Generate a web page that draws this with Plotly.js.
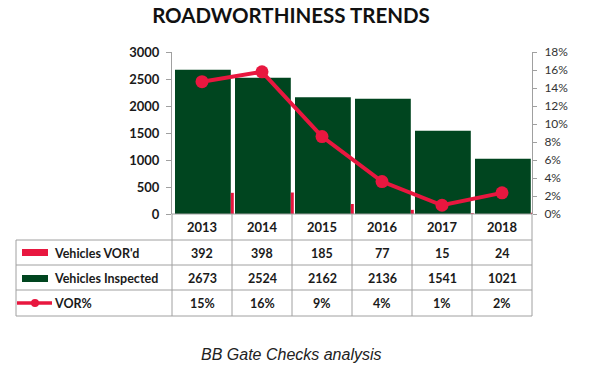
<!DOCTYPE html>
<html><head><meta charset="utf-8">
<script src="https://cdn.plot.ly/plotly-3.0.1.min.js"></script>
<style>html,body{margin:0;padding:0;background:#fff;} #chart{width:595px;height:375px;}</style>
</head><body><div id="chart"></div>
<script>
// ---- data ----
const years = ['2013','2014','2015','2016','2017','2018'];
const vehiclesVord = [392, 398, 185, 77, 15, 24];
const vehiclesInspected = [2673, 2524, 2162, 2136, 1541, 1021];
const vorPct = [0.147, 0.158, 0.086, 0.036, 0.0097, 0.0235];
const rowLabels = ["Vehicles VOR'd", "Vehicles Inspected", "VOR%"];
const leftTicks = [0, 500, 1000, 1500, 2000, 2500, 3000];
const rightTicks = [0, 0.02, 0.04, 0.06, 0.08, 0.10, 0.12, 0.14, 0.16, 0.18];

// ---- style ----
const GREEN = '#00451f', RED = '#e8173f', GRID = '#a0a0a0', TXT = '#1a1a1a';
const FONT = 'Lato, "Open Sans", sans-serif';
const W = 595, H = 375, L = 172, R = 532, T = 52, B = 214;
const px = x => (x - L) / (R - L);
const py = y => (B - y) / (B - T);
const idx = years.map((_, i) => i);

const traces = [
  {type: 'bar', x: idx, y: vehiclesInspected, width: 0.93, offset: -0.45,
   marker: {color: GREEN}, hoverinfo: 'skip', showlegend: false},
  {type: 'bar', x: idx, y: vehiclesVord, width: 0.05, offset: 0.48,
   marker: {color: RED}, hoverinfo: 'skip', showlegend: false},
  {type: 'scatter', x: idx, y: vorPct, yaxis: 'y2', mode: 'lines+markers',
   line: {color: RED, width: 4}, marker: {color: RED, size: 13},
   hoverinfo: 'skip', showlegend: false}
];

const shapes = [];
const line = (x0, y0, x1, y1) => shapes.push({type: 'line', xref: 'paper', yref: 'paper',
  x0: px(x0), y0: py(y0), x1: px(x1), y1: py(y1), line: {color: GRID, width: 1}});
line(L, B, R, B);
[240, 265, 290, 316].forEach(y => line(16, y, R, y));
for (let k = 0; k <= years.length; k++) line(L + k * (R - L) / years.length, B, L + k * (R - L) / years.length, 316);
line(16, 240, 16, 316);
// legend keys
shapes.push({type: 'rect', xref: 'paper', yref: 'paper', x0: px(22), x1: px(48), y0: py(249), y1: py(256),
  fillcolor: RED, line: {width: 0}});
shapes.push({type: 'rect', xref: 'paper', yref: 'paper', x0: px(22), x1: px(48), y0: py(275), y1: py(282),
  fillcolor: GREEN, line: {width: 0}});
shapes.push({type: 'line', xref: 'paper', yref: 'paper', x0: px(17), x1: px(52), y0: py(303), y1: py(303),
  line: {color: RED, width: 3.5}});
shapes.push({type: 'circle', xref: 'paper', yref: 'paper', x0: px(31), x1: px(39), y0: py(299), y1: py(307),
  fillcolor: RED, line: {width: 0}});

const annotations = [];
const rowY = [253, 278, 303];
const rows = [vehiclesVord.map(String), vehiclesInspected.map(String), vorPct.map(p => Math.round(p * 100) + '%')];
rows.forEach((vals, r) => {
  annotations.push({xref: 'paper', yref: 'paper', x: px(52), y: py(rowY[r]), xanchor: 'left', yanchor: 'middle',
    text: rowLabels[r], showarrow: false, font: {family: FONT, size: 12.5, color: TXT, weight: 700}});
  vals.forEach((v, i) => annotations.push({xref: 'x', yref: 'paper', x: i, y: py(rowY[r]),
    xanchor: 'center', yanchor: 'middle', text: v, showarrow: false,
    font: {family: FONT, size: 12.5, color: TXT, weight: 700}}));
});
annotations.push({xref: 'paper', yref: 'paper', x: px(291), y: py(354), xanchor: 'center', yanchor: 'middle',
  text: 'BB Gate Checks analysis', showarrow: false,
  font: {family: '"Liberation Sans", Arial, sans-serif', size: 16, color: '#222', style: 'italic'}});

const layout = {
  width: W, height: H,
  margin: {l: L, r: W - R, t: T, b: H - B, pad: 0},
  paper_bgcolor: '#fff', plot_bgcolor: '#fff',
  barmode: 'overlay',
  title: {text: 'ROADWORTHINESS TRENDS', x: 291 / W, xanchor: 'center', y: 1 - 16 / H, yanchor: 'middle',
    font: {family: FONT, size: 20.5, color: '#111', weight: 700}},
  xaxis: {range: [-0.5, years.length - 0.5], tickvals: idx, ticktext: years, ticks: '', showline: false,
    showgrid: false, zeroline: false, ticklabelstandoff: 4,
    tickfont: {family: FONT, size: 13, color: TXT, weight: 700}},
  yaxis: {range: [0, 3000], tickvals: leftTicks, showline: true, linecolor: GRID, ticks: 'outside', ticklen: 5,
    tickcolor: GRID, showgrid: false, zeroline: false, ticklabelstandoff: 4,
    tickfont: {family: FONT, size: 13, color: TXT, weight: 700}},
  yaxis2: {overlaying: 'y', side: 'right', range: [0, 0.18], tickvals: rightTicks, tickformat: '.0%',
    showline: true, linecolor: GRID, ticks: 'outside', ticklen: 4, tickcolor: GRID, showgrid: false,
    zeroline: false, ticklabelstandoff: 5, tickfont: {family: FONT, size: 12, color: '#333'}},
  shapes: shapes, annotations: annotations
};

Plotly.newPlot('chart', traces, layout, {staticPlot: true, displayModeBar: false});
</script></body></html>
